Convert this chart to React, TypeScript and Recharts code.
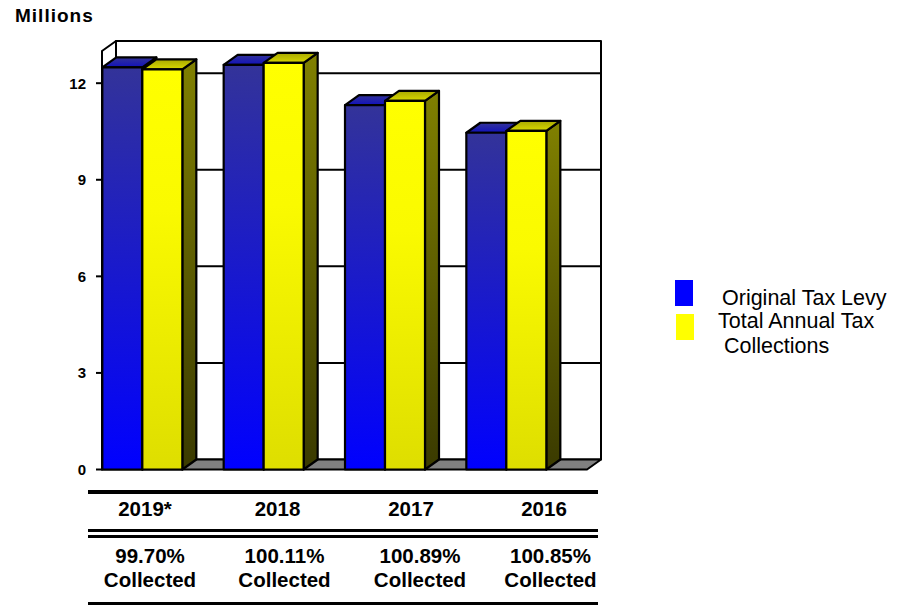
import {
  Bar,
  BarChart,
  CartesianGrid,
  Legend,
  ReferenceArea,
  XAxis,
  YAxis,
} from "recharts";

const years = ["2019*", "2018", "2017", "2016"];
const originalLevy = [12.49, 12.57, 11.32, 10.46];
const totalCollections = [12.43, 12.63, 11.45, 10.52];
const collectedPct = ["99.70%", "100.11%", "100.89%", "100.85%"];
const yTicks = [0, 3, 6, 9, 12];

const data = years.map((year, i) => ({
  year,
  levy: originalLevy[i],
  total: totalCollections[i],
  pct: collectedPct[i],
}));

const FONT = "'Liberation Sans', Arial, sans-serif";
// 3d offset of the back wall
const DX = 14;
const DY = 10;
const PAD_L = 40;
const PAD_R = 81;
// the table labels don't sit under the bars in the original
const yearX = [145, 277.5, 411, 544];
const pctX = [150, 284.5, 420, 550.5];

const Bar3D = ({ x, y, width, height, front, top, side }: any) => (
  <g stroke="#000" strokeWidth={2.2} strokeLinejoin="round">
    <path d={`M${x + width},${y} l${DX},${-DY} v${height} l${-DX},${DY} z`} fill={side} />
    <path d={`M${x},${y} l${DX},${-DY} h${width} l${-DX},${DY} z`} fill={top} />
    <rect x={x} y={y} width={width} height={height} fill={front} />
  </g>
);

const Walls = ({ x: px, y, width: pw, height }: any) => {
  // with a point scale the area only spans first to last category
  const x = px - PAD_L;
  const width = pw + PAD_L + PAD_R;
  const bottom = y + height;
  const right = x + width;
  return (
    <g stroke="#000" strokeWidth={2} strokeLinejoin="round">
      {/* no fill on the walls, they paint over the grid otherwise */}
      <path d={`M${x + DX},${y - DY} H${right + DX} V${bottom - DY} H${x + DX} z`} fill="none" />
      <path d={`M${x},${y} L${x + DX},${y - DY} V${bottom - DY} L${x},${bottom} z`} fill="none" />
      <path
        d={`M${x},${bottom} L${x + DX},${bottom - DY} H${right + DX} L${right},${bottom} z`}
        fill="#808080"
      />
    </g>
  );
};

const TableTick = ({ payload, index }: any) => {
  const i = index ?? payload.index;
  return (
    <g fontFamily={FONT} fontWeight="bold" fontSize={20.5} fill="#000" textAnchor="middle">
      <text x={yearX[i]} y={516}>{payload.value}</text>
      <text x={pctX[i]} y={563}>{collectedPct[i]}</text>
      <text x={pctX[i]} y={587}>Collected</text>
    </g>
  );
};

const GridLine = ({ x1, x2, y1, y2 }: any) =>
  // 0 and 13 are part of the frame
  y1 < 60 || y1 > 460 ? <g /> : (
    <line x1={x1 + DX} x2={x2 + DX} y1={y1 - DY} y2={y2 - DY} stroke="#000" strokeWidth={2} />
  );

const LegendBox = () => (
  <div style={{ position: "relative", width: 898, height: 1, fontFamily: FONT, fontSize: 21.5, lineHeight: "24px", color: "#000" }}>
    <div style={{ position: "absolute", left: 675, top: 280, width: 18, height: 26, background: "#0000ff" }} />
    <div style={{ position: "absolute", left: 676, top: 314, width: 18, height: 26, background: "#ffff00" }} />
    <div style={{ position: "absolute", left: 722, top: 286, whiteSpace: "nowrap" }}>Original Tax Levy</div>
    <div style={{ position: "absolute", left: 718, top: 309, whiteSpace: "nowrap" }}>Total Annual Tax</div>
    <div style={{ position: "absolute", left: 724, top: 334, whiteSpace: "nowrap" }}>Collections</div>
  </div>
);

const Rule = ({ top, h }: { top: number; h: number }) => (
  <div style={{ position: "absolute", left: 88, top, width: 510, height: h, background: "#000" }} />
);

export default function App() {
  return (
    <div style={{ position: "absolute", left: 0, top: 0, width: 898, height: 605, overflow: "hidden" }}>
      <BarChart
        width={898}
        height={605}
        data={data}
        margin={{ top: 51, left: 0, right: 311, bottom: 133.5 }}
        barGap={0}
      >
        <defs>
          <linearGradient id="blueFront" x1="0" y1="0" x2="0" y2="1">
            <stop offset="0" stopColor="#333399" />
            <stop offset="1" stopColor="#0000ff" />
          </linearGradient>
          <linearGradient id="blueTop" x1="0" y1="0" x2="0" y2="1">
            <stop offset="0" stopColor="#333399" />
            <stop offset="1" stopColor="#1111bb" />
          </linearGradient>
          <linearGradient id="yellowFront" x1="0" y1="0" x2="0" y2="1">
            <stop offset="0" stopColor="#ffff00" />
            <stop offset="0.35" stopColor="#fafa00" />
            <stop offset="1" stopColor="#dede00" />
          </linearGradient>
          <linearGradient id="yellowTop" x1="0" y1="0" x2="0" y2="1">
            <stop offset="0" stopColor="#a8a800" />
            <stop offset="1" stopColor="#d8d800" />
          </linearGradient>
          <linearGradient id="yellowSide" x1="0" y1="0" x2="0" y2="1">
            <stop offset="0" stopColor="#808000" />
            <stop offset="1" stopColor="#3a3a00" />
          </linearGradient>
        </defs>
        <ReferenceArea y1={0} y2={13} ifOverflow="visible" shape={(p: any) => <Walls {...p} />} />
        <CartesianGrid vertical={false} horizontal={(p: any) => <GridLine {...p} />} />
        <XAxis
          dataKey="year"
          scale="point"
          padding={{ left: PAD_L, right: PAD_R }}
          height={1}
          axisLine={false}
          tickLine={false}
          interval={0}
          tick={(p: any) => <TableTick {...p} />}
        />
        <YAxis
          type="number"
          domain={[0, 13]}
          ticks={yTicks}
          width={102}
          interval={0}
          axisLine={false}
          tickSize={6}
          tickLine={{ stroke: "#000", strokeWidth: 2 }}
          tick={{ fontFamily: FONT, fontWeight: "bold", fontSize: 15, fill: "#000" }}
          tickMargin={10}
        />
        <Bar
          dataKey="levy"
          name="Original Tax Levy"
          barSize={40}
          isAnimationActive={false}
          shape={(p: any) => <Bar3D {...p} front="url(#blueFront)" top="url(#blueTop)" side="#222277" />}
        />
        <Bar
          dataKey="total"
          name="Total Annual Tax Collections"
          barSize={40}
          isAnimationActive={false}
          shape={(p: any) => <Bar3D {...p} front="url(#yellowFront)" top="url(#yellowTop)" side="url(#yellowSide)" />}
        />
        <Legend
          content={() => <LegendBox />}
          wrapperStyle={{ position: "absolute", left: 0, top: 0, width: 898, height: 1 }}
        />
      </BarChart>
      <div style={{ position: "absolute", left: 15, top: 5, fontFamily: FONT, fontWeight: "bold", fontSize: 19, letterSpacing: 1, color: "#000" }}>
        Millions
      </div>
      <Rule top={490} h={4} />
      <Rule top={528.5} h={3} />
      <Rule top={534.5} h={3} />
      <Rule top={602} h={3} />
    </div>
  );
}
